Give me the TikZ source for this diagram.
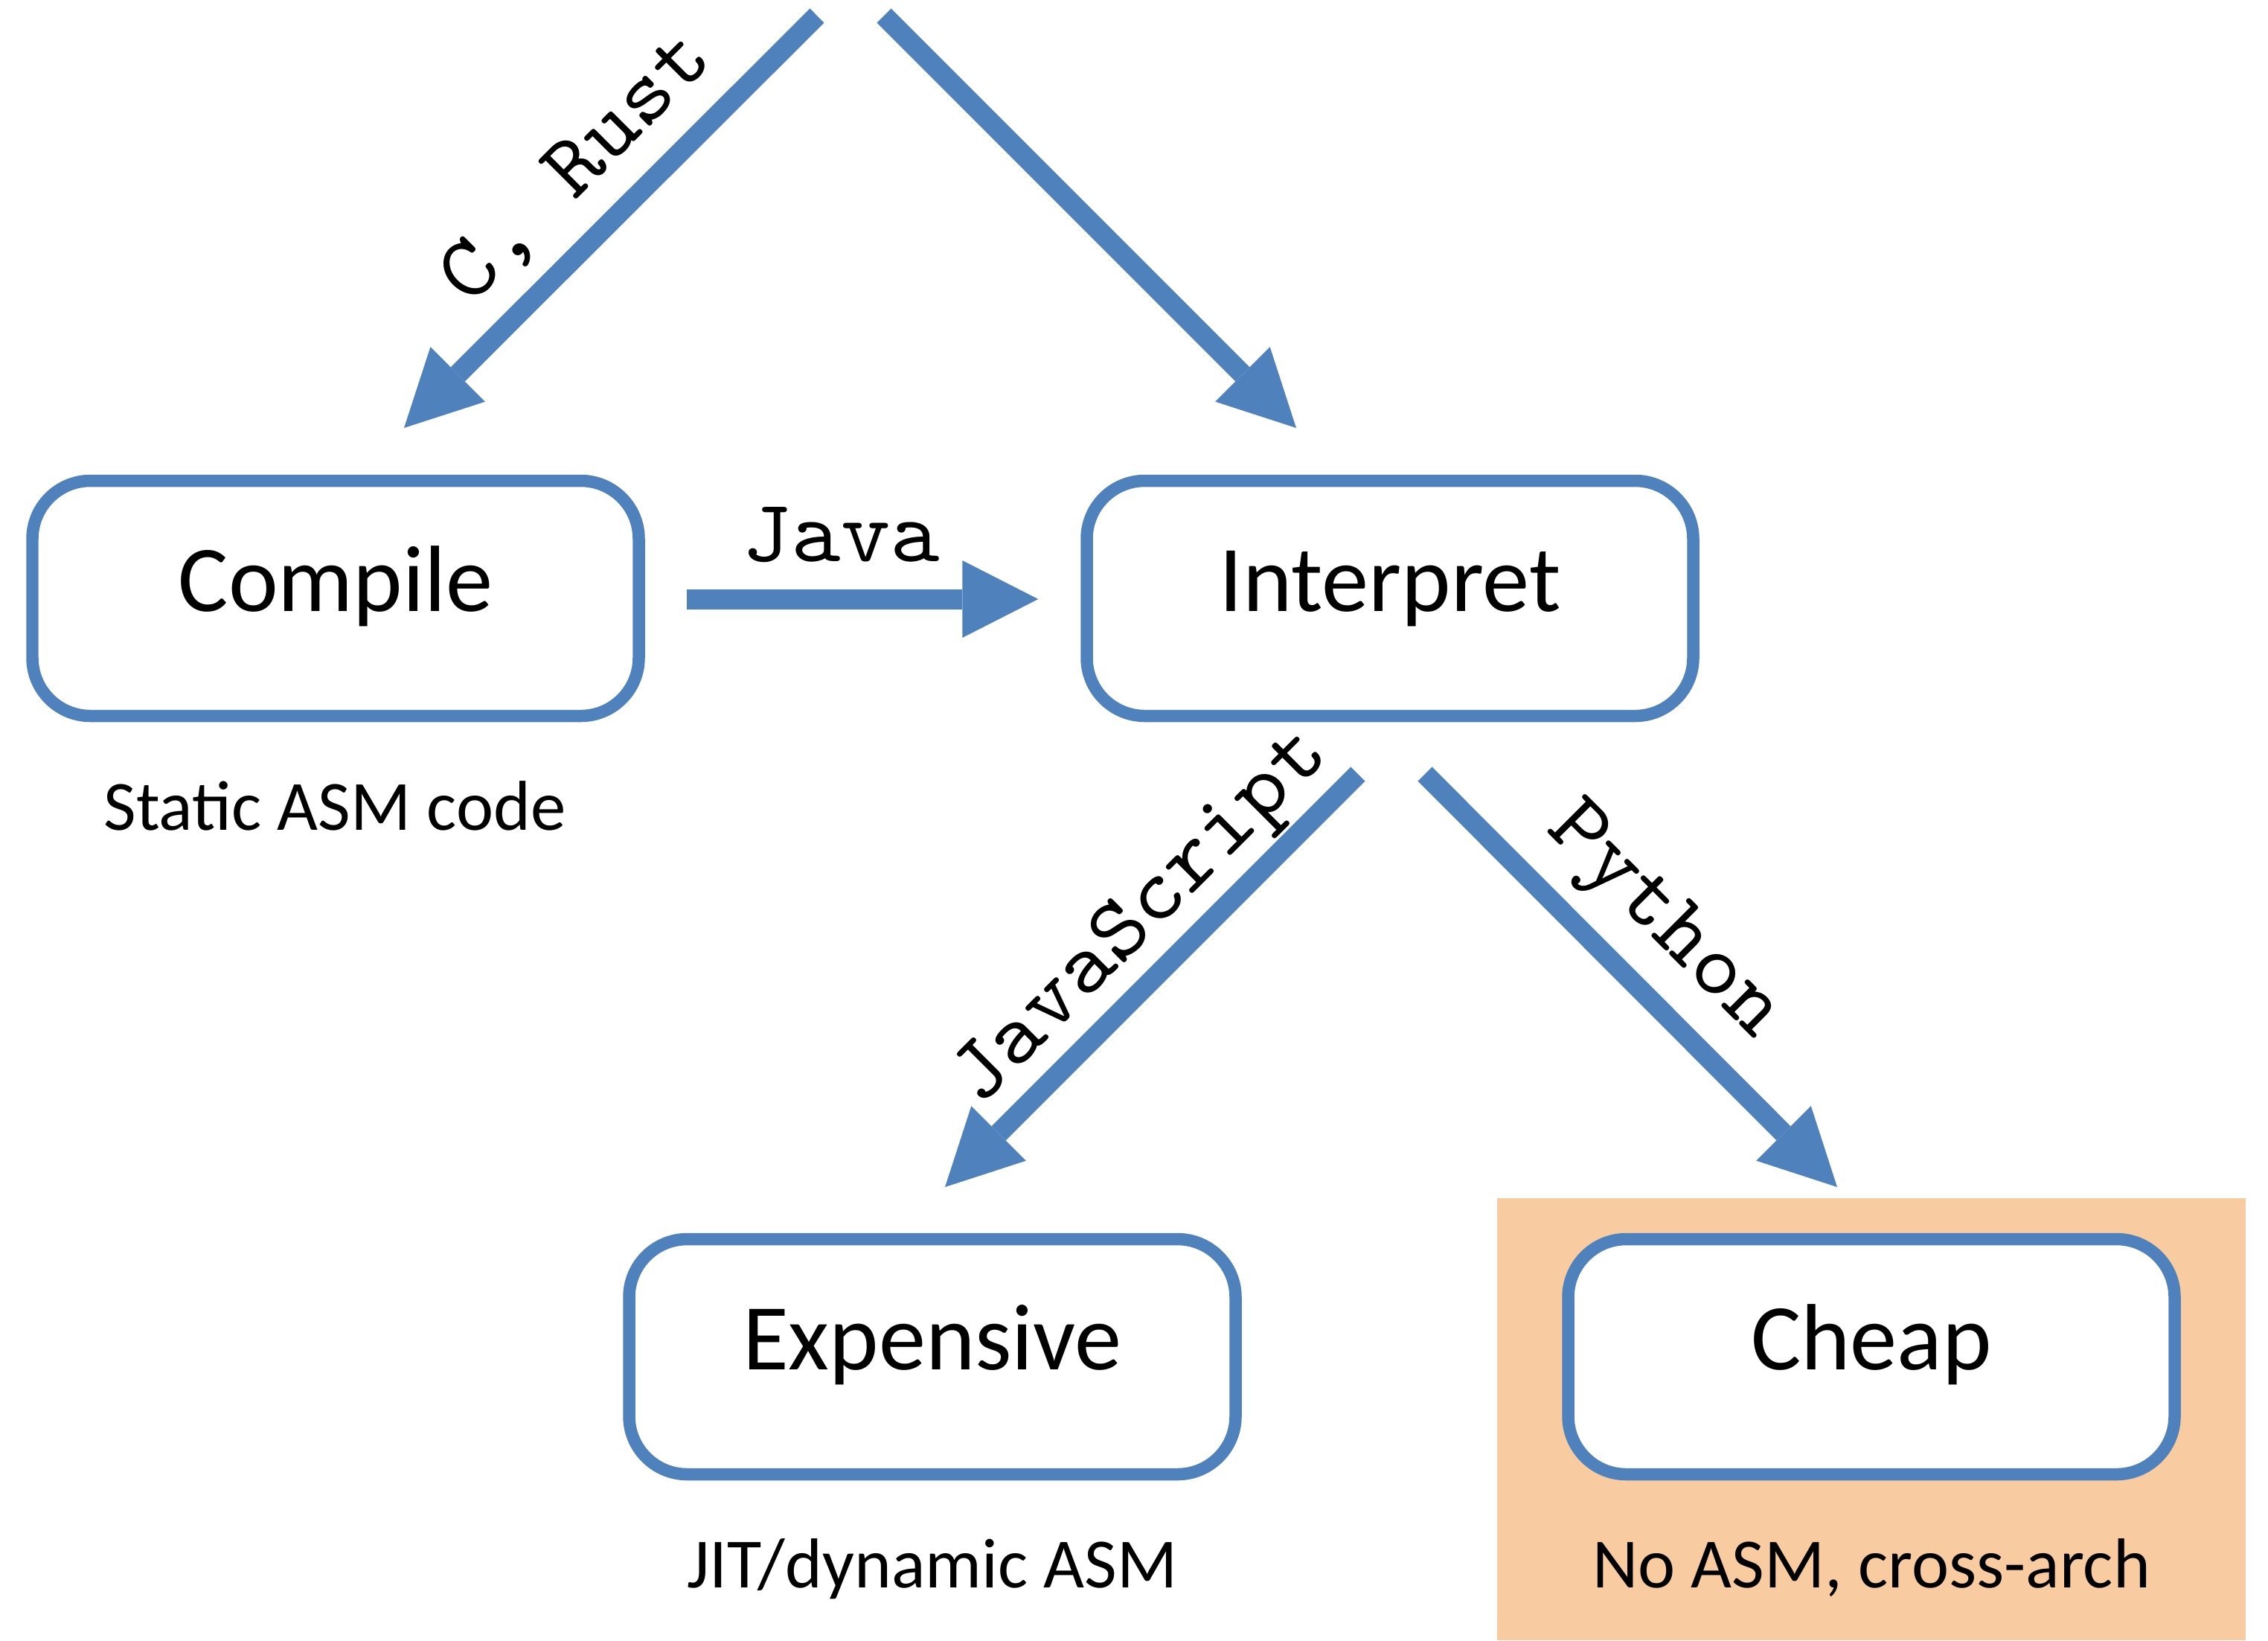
\documentclass[tikz,border=0pt]{standalone}
\usepackage{fontspec}
\setmainfont{Carlito}
\newfontfamily\langfont{lmmono10-regular.otf}[FakeStretch=1.06]
\usetikzlibrary{arrows.meta,shadows}
\definecolor{ppblue}{HTML}{4F81BD}
\definecolor{pporange}{HTML}{F9CBA1}
\begin{document}
\begin{tikzpicture}[x=1cm,y=1cm,
  box/.style={draw=ppblue, line width=0.165cm, rounded corners=0.78cm, fill=white,
    minimum width=8.15cm, minimum height=3.16cm, inner sep=0pt,
    font=\fontsize{36}{43}\selectfont, text height=25pt, text depth=15pt,
    drop shadow={shadow xshift=0.03cm, shadow yshift=-0.07cm, opacity=0.25, fill=black}},
  arr/.style={draw=ppblue, line width=0.27cm, -{Triangle[length=1.02cm,width=1.04cm,line width=0pt]}},
  lang/.style={font=\langfont\fontsize{34}{40}\selectfont, inner sep=0pt},
  note/.style={font=\fontsize{27}{32}\selectfont, inner sep=0pt, anchor=base}
]
\useasboundingbox (0,0) rectangle (30.48,-22.04);
\fill[pporange] (20.12,-16.10) rectangle (30.18,-22.04);

% boxes
\node[box] (compile) at (4.51,-8.04) {Compile};
\node[box] (interpret) at (18.68,-8.04) {Interpret};
\node[box] (expensive) at (12.53,-18.23) {Expensive};
\node[box] (cheap) at (25.15,-18.23) {Cheap};

% notes
\node[note] (static) at (4.50,-11.15) {Static ASM code};
\node[note] (jit) at (12.53,-21.33) {JIT/dynamic ASM};
\node[note] (noasm) at (25.15,-21.33) {No ASM, cross-arch};

% free ends
\coordinate (crStart) at (10.98,-0.21);
\coordinate (crTip) at (5.43,-5.75);
\coordinate (inStart) at (11.88,-0.21);
\coordinate (inTip) at (17.42,-5.75);
\coordinate (jsStart) at (18.25,-10.40);
\coordinate (jsTip) at (12.70,-15.95);
\coordinate (pyStart) at (19.15,-10.40);
\coordinate (pyTip) at (24.69,-15.95);

% arrows
\draw[arr] (crStart) -- (crTip);
\draw[arr] (inStart) -- (inTip);
\draw[arr] ([xshift=0.56cm,yshift=-0.01cm]compile.east) -- ([xshift=-0.57cm,yshift=-0.01cm]interpret.west);
\draw[arr] (jsStart) -- (jsTip);
\draw[arr] (pyStart) -- (pyTip);

% language labels
\node[lang, rotate=45] (crust) at (7.76,-2.27) {C, Rust};
\node[lang, anchor=base] (java) at (11.30,-7.54) {Java};
\node[lang, rotate=45] (js) at (15.36,-12.35) {JavaScript};
\node[lang, rotate=-45] (py) at (22.34,-12.40) {Python};
\end{tikzpicture}
\end{document}
